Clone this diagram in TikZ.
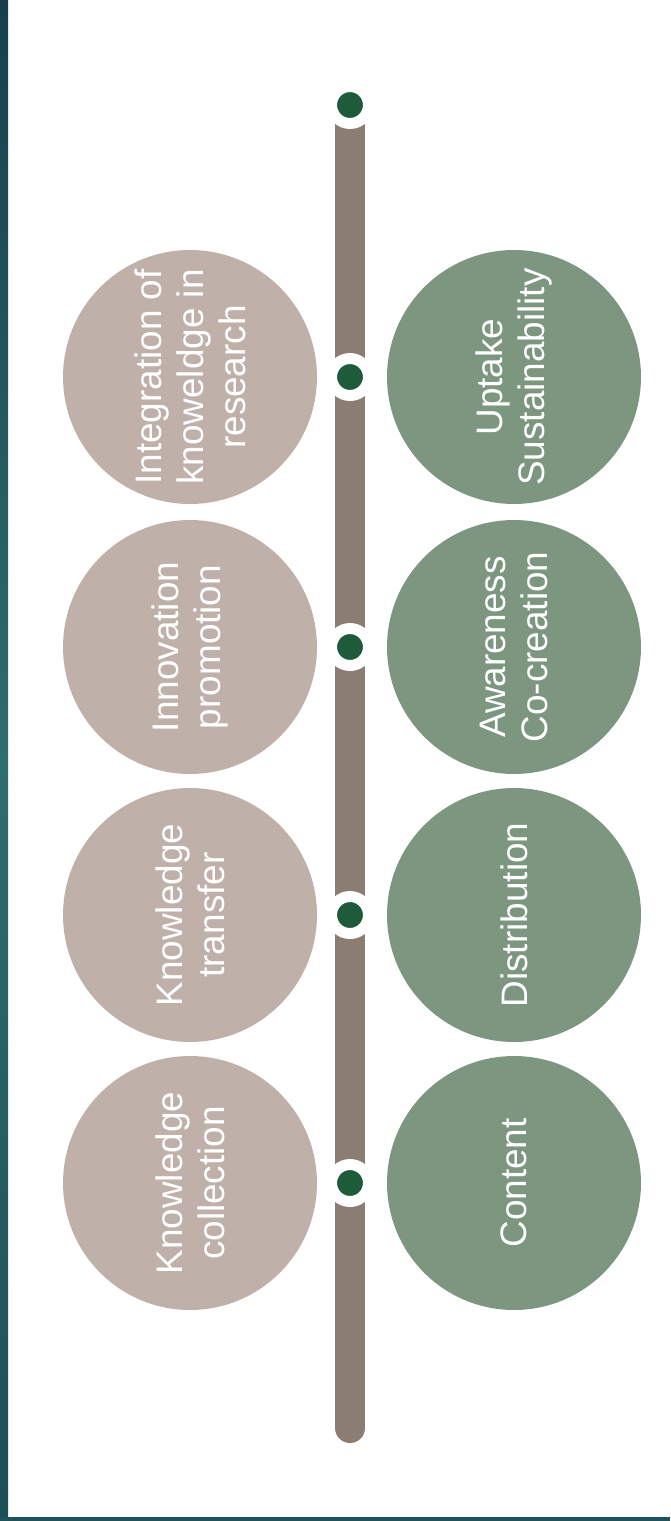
\documentclass[tikz,border=0pt]{standalone}
\usepackage{fontspec}
\setmainfont{Liberation Sans}
\definecolor{barbrown}{HTML}{8C7D73}
\definecolor{dotgreen}{HTML}{1D5B3B}
\definecolor{stonebeige}{HTML}{BFB1A9}
\definecolor{sagegreen}{HTML}{7C967F}
\definecolor{edgeteal}{HTML}{2E6E6B}
\definecolor{edgedark}{HTML}{173F4E}
\begin{document}
\begin{tikzpicture}[x=0.02cm,y=-0.02cm,
    stage/.style={circle,minimum size=5.08cm,inner sep=0pt,text=white,
      font=\fontsize{21}{24}\selectfont,align=center,rotate=90},
    left stage/.style={stage,fill=stonebeige},
    right stage/.style={stage,fill=sagegreen},
    milestone/.style={circle,fill=dotgreen,draw=white,line width=0.22cm,
      minimum size=0.74cm,inner sep=0pt}]
        % Page and frame
        \useasboundingbox (0,0) rectangle (670,1521);
        \fill[white] (0,0) rectangle (670,1521);
        \shade[top color=edgedark,bottom color=edgedark!70!edgeteal,middle color=edgeteal] (0,0) rectangle (8,1521);
        \fill[edgedark!60!edgeteal] (0,1517) rectangle (670,1521);

        % Timeline bar
        \coordinate (bartop) at (350,105);
        \coordinate (barend) at (350,1428);
        \draw[barbrown,line width=0.6cm,line cap=round] (bartop) -- (barend);

        % Milestones
        \node[milestone] (m1) at (bartop) {};
        \node[milestone] (m2) at (350,377) {};
        \node[milestone] (m3) at (350,647) {};
        \node[milestone] (m4) at (350,915) {};
        \node[milestone] (m5) at (350,1183) {};

        % Knowledge side
        \node[left stage] (integration) at (190,377) {Integration of\\knoweldge in\\research};
        \node[left stage] (innovation) at (190,647) {Innovation\\promotion};
        \node[left stage] (transfer) at (190,915) {Knowledge\\transfer};
        \node[left stage] (collection) at (190,1183) {Knowledge\\collection};

        % Communication side
        \node[right stage] (uptake) at (514,377) {Uptake\\Sustainability};
        \node[right stage] (awareness) at (514,647) {Awareness\\Co-creation};
        \node[right stage] (distribution) at (514,915) {Distribution};
        \node[right stage] (content) at (514,1183) {Content};
    \end{tikzpicture}
\end{document}
